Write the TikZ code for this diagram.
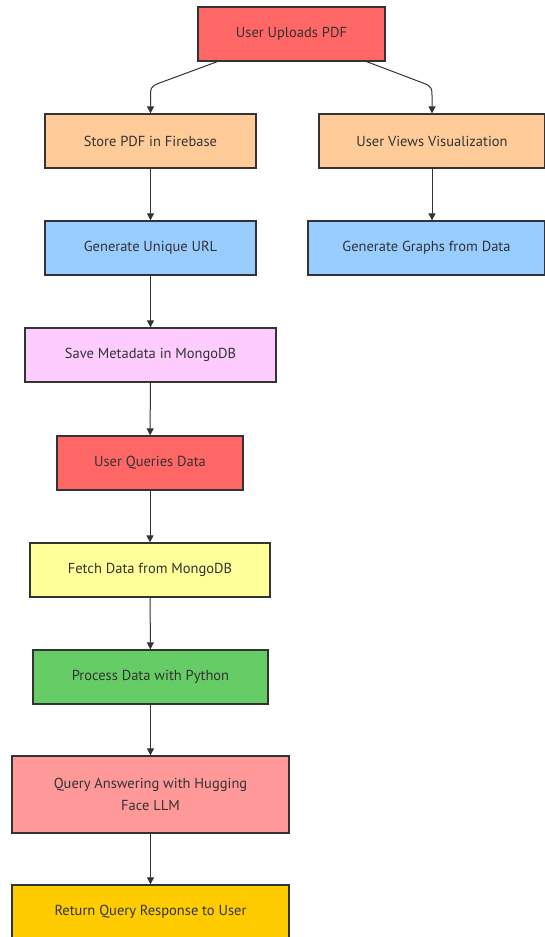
\documentclass[tikz,border=0pt]{standalone}
\usepackage{fontspec}
\setmainfont{PT Sans}
\usetikzlibrary{arrows.meta,calc}
\definecolor{cred}{HTML}{FF6666}
\definecolor{corange}{HTML}{FFCC99}
\definecolor{cblue}{HTML}{99CCFF}
\definecolor{cpink}{HTML}{FFCCFF}
\definecolor{cyellow}{HTML}{FFFF99}
\definecolor{cgreen}{HTML}{66CC66}
\definecolor{clred}{HTML}{FF9999}
\definecolor{cgold}{HTML}{FFCC00}
\definecolor{cline}{HTML}{333333}
\definecolor{ctext}{HTML}{333333}
\tikzset{
  box/.style={draw=cline, line width=1.3pt, rectangle, inner sep=0pt, align=center,
    text=ctext, font=\fontsize{14.5}{22}\selectfont},
  conn/.style={draw=cline, line width=1pt, -{Triangle[length=7pt,width=7pt]}}
}
\begin{document}
\begin{tikzpicture}[x=1pt,y=-1pt]
\useasboundingbox (0,0) rectangle (545,937);
\begin{scope}
\clip (0,0) rectangle (545,937);
\node[box, fill=cred, minimum width=187, minimum height=54] (up) at (291.5,34) {User Uploads PDF};
\node[box, fill=corange, minimum width=211, minimum height=54] (store) at (150.5,141) {Store PDF in Firebase};
\node[box, fill=corange, minimum width=226, minimum height=54] (view) at (432,141) {User Views Visualization};
\node[box, fill=cblue, minimum width=211, minimum height=54] (url) at (150.5,248) {Generate Unique URL};
\node[box, fill=cblue, minimum width=237, minimum height=54] (graph) at (426.5,248) {Generate Graphs from Data};
\node[box, fill=cpink, minimum width=251, minimum height=54] (meta) at (150.5,355) {Save Metadata in MongoDB};
\node[box, fill=cred, minimum width=186, minimum height=54] (query) at (150,463) {User Queries Data};
\node[box, fill=cyellow, minimum width=240, minimum height=54] (fetch) at (150,570) {Fetch Data from MongoDB};
\node[box, fill=cgreen, minimum width=235, minimum height=54] (proc) at (150.5,677) {Process Data with Python};
\node[box, fill=clred, minimum width=277, minimum height=77] (ans) at (150.5,794.5) {Query Answering with Hugging\\Face LLM};
\node[box, fill=cgold, minimum width=277, minimum height=54] (ret) at (150.5,912) {Return Query Response to User};
\end{scope}
\coordinate (s1) at ($(up.south west)+(20,0)$);
\coordinate (s2) at ($(up.south east)+(-19,0)$);
\draw[conn] (s1) -- ($(store.north)+(8,-30)$) .. controls ($(store.north)+(0,-27)$) and ($(store.north)+(0,-24)$) .. ($(store.north)+(0,-18)$) -- (store.north);
\draw[conn] (s2) -- ($(view.north)+(-8,-30)$) .. controls ($(view.north)+(0,-27)$) and ($(view.north)+(0,-24)$) .. ($(view.north)+(0,-18)$) -- (view.north);
\draw[conn] (store) -- (url);
\draw[conn] (view) -- (view |- graph.north);
\draw[conn] (url) -- (meta);
\draw[conn] (meta) -- (query);
\draw[conn] (query) -- (fetch);
\draw[conn] (fetch) -- (proc);
\draw[conn] (proc) -- (ans);
\draw[conn] (ans) -- (ret);
\end{tikzpicture}
\end{document}
